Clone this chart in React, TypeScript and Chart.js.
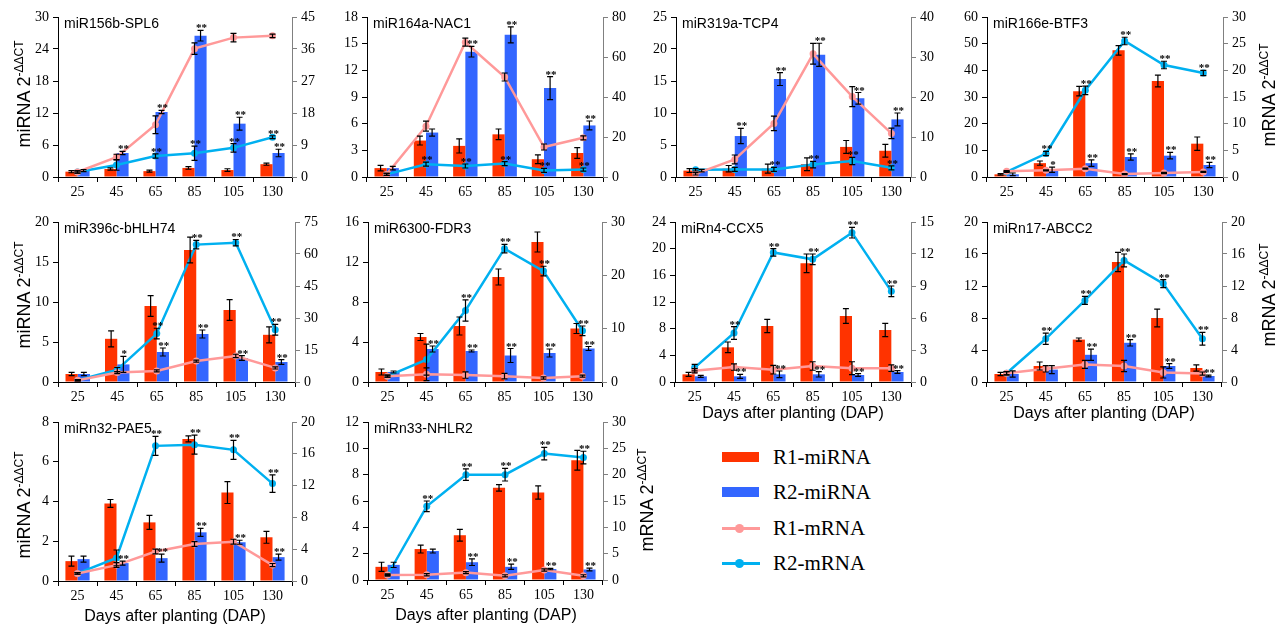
import React, { useEffect, useRef } from "react";
import { Chart, registerables } from "chart.js";

Chart.register(...registerables);

const SERIF = '"Liberation Serif", "Times New Roman", serif';
const SANS = '"Liberation Sans", Arial, sans-serif';
const RED = "#FF3300";
const BLUE = "#3366FF";
const PINK = "#FF9999";
const CYAN = "#00B0F0";

const DAP_LABELS = ["25", "45", "65", "85", "105", "130"];

// ---- miR156b-SPL6 ----
const SPL6_R1_MI = [1.0, 1.5, 1.1, 1.7, 1.3, 2.4];
const SPL6_R1_MI_ERR = [0.2, 0.2, 0.2, 0.25, 0.25, 0.2];
const SPL6_R2_MI = [1.2, 4.5, 12.2, 26.5, 10.0, 4.5];
const SPL6_R2_MI_ERR = [0.2, 0.3, 0.3, 1.0, 1.2, 0.7];
const SPL6_R1_M = [1.4, 5.6, 14.7, 36.1, 39.2, 39.7];
const SPL6_R1_M_ERR = [0.3, 0.8, 2.5, 1.6, 1.2, 0.5];
const SPL6_R2_M = [1.4, 3.4, 5.9, 6.7, 8.2, 11.2];
const SPL6_R2_M_ERR = [0.3, 1.5, 0.6, 2.0, 1.2, 0.4];
const SPL6_SIG_BAR = ["", "**", "**", "**", "**", "**"];
const SPL6_SIG_LINE = ["", "", "**", "**", "**", "**"];

// ---- miR164a-NAC1 ----
const NAC1_R1_MI = [1.0, 4.1, 3.5, 4.8, 2.0, 2.7];
const NAC1_R1_MI_ERR = [0.3, 0.5, 0.8, 0.6, 0.5, 0.6];
const NAC1_R2_MI = [1.0, 5.0, 14.1, 16.0, 10.0, 5.8];
const NAC1_R2_MI_ERR = [0.2, 0.4, 0.6, 0.9, 1.3, 0.5];
const NAC1_R1_M = [1.3, 25.4, 67.4, 50.0, 15.0, 19.6];
const NAC1_R1_M_ERR = [0.5, 2.5, 2.0, 2.0, 1.5, 1.0];
const NAC1_R2_M = [1.3, 6.4, 5.5, 6.7, 3.3, 3.7];
const NAC1_R2_M_ERR = [0.5, 1.0, 1.0, 1.0, 1.0, 0.8];
const NAC1_SIG_BAR = ["", "", "**", "**", "**", "**"];
const NAC1_SIG_LINE = ["", "**", "**", "**", "**", "**"];

// ---- miR319a-TCP4 ----
const TCP4_R1_MI = [1.0, 1.3, 1.3, 2.0, 4.7, 4.1];
const TCP4_R1_MI_ERR = [0.3, 0.5, 0.7, 1.0, 1.0, 1.0];
const TCP4_R2_MI = [1.0, 6.4, 15.3, 19.1, 12.3, 9.0];
const TCP4_R2_MI_ERR = [0.2, 1.2, 1.0, 1.8, 0.9, 1.0];
const TCP4_R1_M = [0.8, 4.4, 13.4, 30.8, 20.1, 10.9];
const TCP4_R1_M_ERR = [0.3, 1.1, 1.8, 2.6, 2.5, 1.3];
const TCP4_R2_M = [1.8, 1.9, 1.9, 3.1, 4.0, 2.3];
const TCP4_R2_M_ERR = [0.3, 0.5, 0.5, 0.8, 0.9, 0.5];
const TCP4_SIG_BAR = ["", "**", "**", "**", "**", "**"];
const TCP4_SIG_LINE = ["", "", "**", "**", "**", "**"];

// ---- miR166e-BTF3 ----
const BTF3_R1_MI = [1.0, 5.2, 32.2, 47.5, 36.0, 12.5];
const BTF3_R1_MI_ERR = [0.3, 0.8, 1.8, 1.8, 2.2, 2.5];
const BTF3_R2_MI = [1.0, 2.7, 5.2, 7.5, 8.0, 4.5];
const BTF3_R2_MI_ERR = [0.5, 1.0, 1.2, 1.2, 1.2, 1.0];
const BTF3_R1_M = [1.1, 1.25, 1.55, 0.55, 0.75, 0.95];
const BTF3_R1_M_ERR = [0.1, 0.1, 0.1, 0.1, 0.1, 0.1];
const BTF3_R2_M = [0.95, 4.4, 16.25, 25.5, 21.0, 19.5];
const BTF3_R2_M_ERR = [0.1, 0.4, 0.8, 0.7, 0.7, 0.5];
const BTF3_SIG_BAR = ["", "*", "**", "**", "**", "**"];
const BTF3_SIG_LINE = ["", "**", "**", "**", "**", "**"];

// ---- miR396c-bHLH74 ----
const BHLH_R1_MI = [1.0, 5.4, 9.5, 16.5, 9.0, 5.9];
const BHLH_R1_MI_ERR = [0.2, 1.0, 1.3, 1.6, 1.3, 1.0];
const BHLH_R2_MI = [1.0, 2.2, 3.75, 6.0, 3.0, 2.5];
const BHLH_R2_MI_ERR = [0.2, 1.0, 0.5, 0.5, 0.3, 0.3];
const BHLH_R1_M = [0.8, 4.4, 5.2, 9.8, 12.2, 6.6];
const BHLH_R1_M_ERR = [0.3, 0.5, 0.5, 0.5, 0.8, 0.5];
const BHLH_R2_M = [0.8, 5.8, 22.7, 64.4, 65.3, 24.5];
const BHLH_R2_M_ERR = [0.3, 1.0, 2.5, 2.0, 1.5, 2.5];
const BHLH_SIG_BAR = ["", "*", "**", "**", "**", "**"];
const BHLH_SIG_LINE = ["", "", "**", "**", "**", "**"];

// ---- miR6300-FDR3 ----
const FDR3_R1_MI = [1.0, 4.5, 5.6, 10.5, 14.0, 5.35];
const FDR3_R1_MI_ERR = [0.3, 0.35, 0.9, 0.8, 1.0, 0.5];
const FDR3_R2_MI = [1.0, 3.3, 3.1, 2.65, 2.9, 3.35];
const FDR3_R2_MI_ERR = [0.1, 0.3, 0.1, 0.7, 0.4, 0.2];
const FDR3_R1_M = [1.1, 1.45, 1.3, 1.1, 0.75, 1.1];
const FDR3_R1_M_ERR = [0.2, 1.2, 0.6, 0.5, 0.2, 0.2];
const FDR3_R2_M = [1.1, 4.2, 13.4, 25.0, 20.8, 9.6];
const FDR3_R2_M_ERR = [0.2, 2.9, 2.0, 0.8, 0.9, 0.9];
const FDR3_SIG_BAR = ["", "**", "**", "**", "**", "**"];
const FDR3_SIG_LINE = ["", "", "**", "**", "**", "**"];

// ---- miRn4-CCX5 ----
const CCX5_R1_MI = [1.15, 5.2, 8.4, 17.8, 9.9, 7.8];
const CCX5_R1_MI_ERR = [0.3, 0.8, 1.0, 1.4, 1.1, 1.0];
const CCX5_R2_MI = [0.85, 0.85, 1.15, 1.15, 1.05, 1.5];
const CCX5_R2_MI_ERR = [0.15, 0.3, 0.5, 0.4, 0.2, 0.2];
const CCX5_R1_M = [1.05, 1.4, 1.15, 1.5, 1.3, 1.3];
const CCX5_R1_M_ERR = [0.2, 0.3, 0.4, 0.4, 0.6, 0.3];
const CCX5_R2_M = [1.35, 4.6, 12.15, 11.5, 14.0, 8.5];
const CCX5_R2_M_ERR = [0.3, 0.6, 0.35, 0.5, 0.5, 0.5];
const CCX5_SIG_BAR = ["", "**", "**", "**", "**", "**"];
const CCX5_SIG_LINE = ["", "**", "**", "**", "**", "**"];

// ---- miRn17-ABCC2 ----
const ABCC2_R1_MI = [1.0, 2.0, 5.3, 15.0, 8.0, 1.75];
const ABCC2_R1_MI_ERR = [0.2, 0.5, 0.2, 1.2, 1.1, 0.4];
const ABCC2_R2_MI = [1.0, 1.55, 3.4, 4.9, 2.0, 0.75];
const ABCC2_R2_MI_ERR = [0.4, 0.5, 0.7, 0.4, 0.3, 0.1];
const ABCC2_R1_M = [1.1, 1.65, 2.2, 2.0, 1.2, 1.05];
const ABCC2_R1_M_ERR = [0.2, 0.4, 0.5, 0.7, 0.7, 0.2];
const ABCC2_R2_M = [1.1, 5.4, 10.2, 15.2, 12.3, 5.4];
const ABCC2_R2_M_ERR = [0.2, 0.7, 0.5, 0.8, 0.5, 0.8];
const ABCC2_SIG_BAR = ["", "", "**", "**", "**", "**"];
const ABCC2_SIG_LINE = ["", "**", "**", "**", "**", "**"];

// ---- miRn32-PAE5 ----
const PAE5_R1_MI = [1.0, 3.9, 2.95, 7.15, 4.45, 2.2];
const PAE5_R1_MI_ERR = [0.25, 0.2, 0.35, 0.15, 0.55, 0.3];
const PAE5_R2_MI = [1.1, 0.9, 1.15, 2.45, 1.95, 1.2];
const PAE5_R2_MI_ERR = [0.15, 0.1, 0.2, 0.2, 0.1, 0.15];
const PAE5_R1_M = [0.95, 2.0, 3.7, 4.65, 4.95, 2.0];
const PAE5_R1_M_ERR = [0.1, 0.3, 0.3, 0.3, 0.3, 0.2];
const PAE5_R2_M = [0.95, 2.9, 17.0, 17.15, 16.5, 12.25];
const PAE5_R2_M_ERR = [0.1, 1.0, 1.2, 1.2, 1.2, 1.1];
const PAE5_SIG_BAR = ["", "**", "**", "**", "**", "**"];
const PAE5_SIG_LINE = ["", "", "**", "**", "**", "**"];

// ---- miRn33-NHLR2 ----
const NHLR2_R1_MI = [1.0, 2.35, 3.4, 7.0, 6.65, 9.1];
const NHLR2_R1_MI_ERR = [0.35, 0.3, 0.45, 0.25, 0.5, 0.75];
const NHLR2_R2_MI = [1.15, 2.2, 1.35, 1.0, 0.83, 0.8];
const NHLR2_R2_MI_ERR = [0.2, 0.15, 0.25, 0.2, 0.05, 0.1];
const NHLR2_R1_M = [0.95, 1.0, 1.4, 0.8, 1.9, 0.8];
const NHLR2_R1_M_ERR = [0.1, 0.2, 0.2, 0.2, 0.2, 0.2];
const NHLR2_R2_M = [0.95, 14.0, 20.0, 20.0, 24.0, 23.25];
const NHLR2_R2_M_ERR = [0.2, 1.0, 1.1, 1.2, 1.2, 1.2];
const NHLR2_SIG_BAR = ["", "", "**", "**", "**", "**"];
const NHLR2_SIG_LINE = ["", "**", "**", "**", "**", "**"];

const PANELS = [
  { title: "miR156b-SPL6", r1mi: SPL6_R1_MI, r1miE: SPL6_R1_MI_ERR, r2mi: SPL6_R2_MI, r2miE: SPL6_R2_MI_ERR, r1m: SPL6_R1_M, r1mE: SPL6_R1_M_ERR, r2m: SPL6_R2_M, r2mE: SPL6_R2_M_ERR, sigBar: SPL6_SIG_BAR, sigLine: SPL6_SIG_LINE, yMax: 30, yStep: 6, y1Max: 45, y1Step: 9, box: { x0: 58, x1: 292, y0: 17, y1: 177 } },
  { title: "miR164a-NAC1", r1mi: NAC1_R1_MI, r1miE: NAC1_R1_MI_ERR, r2mi: NAC1_R2_MI, r2miE: NAC1_R2_MI_ERR, r1m: NAC1_R1_M, r1mE: NAC1_R1_M_ERR, r2m: NAC1_R2_M, r2mE: NAC1_R2_M_ERR, sigBar: NAC1_SIG_BAR, sigLine: NAC1_SIG_LINE, yMax: 18, yStep: 3, y1Max: 80, y1Step: 20, box: { x0: 367, x1: 603, y0: 17, y1: 177 } },
  { title: "miR319a-TCP4", r1mi: TCP4_R1_MI, r1miE: TCP4_R1_MI_ERR, r2mi: TCP4_R2_MI, r2miE: TCP4_R2_MI_ERR, r1m: TCP4_R1_M, r1mE: TCP4_R1_M_ERR, r2m: TCP4_R2_M, r2mE: TCP4_R2_M_ERR, sigBar: TCP4_SIG_BAR, sigLine: TCP4_SIG_LINE, yMax: 25, yStep: 5, y1Max: 40, y1Step: 10, box: { x0: 676, x1: 911, y0: 17, y1: 177 } },
  { title: "miR166e-BTF3", r1mi: BTF3_R1_MI, r1miE: BTF3_R1_MI_ERR, r2mi: BTF3_R2_MI, r2miE: BTF3_R2_MI_ERR, r1m: BTF3_R1_M, r1mE: BTF3_R1_M_ERR, r2m: BTF3_R2_M, r2mE: BTF3_R2_M_ERR, sigBar: BTF3_SIG_BAR, sigLine: BTF3_SIG_LINE, yMax: 60, yStep: 10, y1Max: 30, y1Step: 5, box: { x0: 987, x1: 1223, y0: 17, y1: 177 } },
  { title: "miR396c-bHLH74", r1mi: BHLH_R1_MI, r1miE: BHLH_R1_MI_ERR, r2mi: BHLH_R2_MI, r2miE: BHLH_R2_MI_ERR, r1m: BHLH_R1_M, r1mE: BHLH_R1_M_ERR, r2m: BHLH_R2_M, r2mE: BHLH_R2_M_ERR, sigBar: BHLH_SIG_BAR, sigLine: BHLH_SIG_LINE, yMax: 20, yStep: 5, y1Max: 75, y1Step: 15, box: { x0: 58, x1: 295, y0: 222, y1: 382 } },
  { title: "miR6300-FDR3", r1mi: FDR3_R1_MI, r1miE: FDR3_R1_MI_ERR, r2mi: FDR3_R2_MI, r2miE: FDR3_R2_MI_ERR, r1m: FDR3_R1_M, r1mE: FDR3_R1_M_ERR, r2m: FDR3_R2_M, r2mE: FDR3_R2_M_ERR, sigBar: FDR3_SIG_BAR, sigLine: FDR3_SIG_LINE, yMax: 16, yStep: 4, y1Max: 30, y1Step: 10, box: { x0: 368, x1: 602, y0: 222, y1: 382 } },
  { title: "miRn4-CCX5", r1mi: CCX5_R1_MI, r1miE: CCX5_R1_MI_ERR, r2mi: CCX5_R2_MI, r2miE: CCX5_R2_MI_ERR, r1m: CCX5_R1_M, r1mE: CCX5_R1_M_ERR, r2m: CCX5_R2_M, r2mE: CCX5_R2_M_ERR, sigBar: CCX5_SIG_BAR, sigLine: CCX5_SIG_LINE, yMax: 24, yStep: 4, y1Max: 15, y1Step: 3, box: { x0: 675, x1: 911, y0: 222, y1: 382 } },
  { title: "miRn17-ABCC2", r1mi: ABCC2_R1_MI, r1miE: ABCC2_R1_MI_ERR, r2mi: ABCC2_R2_MI, r2miE: ABCC2_R2_MI_ERR, r1m: ABCC2_R1_M, r1mE: ABCC2_R1_M_ERR, r2m: ABCC2_R2_M, r2mE: ABCC2_R2_M_ERR, sigBar: ABCC2_SIG_BAR, sigLine: ABCC2_SIG_LINE, yMax: 20, yStep: 4, y1Max: 20, y1Step: 4, box: { x0: 987, x1: 1222, y0: 222, y1: 382 } },
  { title: "miRn32-PAE5", r1mi: PAE5_R1_MI, r1miE: PAE5_R1_MI_ERR, r2mi: PAE5_R2_MI, r2miE: PAE5_R2_MI_ERR, r1m: PAE5_R1_M, r1mE: PAE5_R1_M_ERR, r2m: PAE5_R2_M, r2mE: PAE5_R2_M_ERR, sigBar: PAE5_SIG_BAR, sigLine: PAE5_SIG_LINE, yMax: 8, yStep: 2, y1Max: 20, y1Step: 4, box: { x0: 58, x1: 292, y0: 422, y1: 581 } },
  { title: "miRn33-NHLR2", r1mi: NHLR2_R1_MI, r1miE: NHLR2_R1_MI_ERR, r2mi: NHLR2_R2_MI, r2miE: NHLR2_R2_MI_ERR, r1m: NHLR2_R1_M, r1mE: NHLR2_R1_M_ERR, r2m: NHLR2_R2_M, r2mE: NHLR2_R2_M_ERR, sigBar: NHLR2_SIG_BAR, sigLine: NHLR2_SIG_LINE, yMax: 12, yStep: 2, y1Max: 30, y1Step: 5, box: { x0: 368, x1: 603, y0: 422, y1: 580 } },
];

const annotPlugin = {
  id: "annot",
  afterDatasetsDraw(chart: any, _args: any, opts: any) {
    const { ctx, chartArea } = chart;
    ctx.save();
    chart.data.datasets.forEach((ds: any, i: number) => {
      const meta = chart.getDatasetMeta(i);
      const sc = chart.scales[ds.yAxisID];
      meta.data.forEach((el: any, j: number) => {
        const v = ds.data[j];
        const e = ds.errors ? ds.errors[j] : 0;
        const x = el.x;
        const yt = sc.getPixelForValue(v + e);
        const yb = sc.getPixelForValue(Math.max(0, v - e));
        ctx.strokeStyle = "#000";
        ctx.lineWidth = 1.2;
        ctx.beginPath();
        ctx.moveTo(x, yt);
        ctx.lineTo(x, yb);
        ctx.moveTo(x - 3, yt);
        ctx.lineTo(x + 3, yt);
        ctx.moveTo(x - 3, yb);
        ctx.lineTo(x + 3, yb);
        ctx.stroke();
        const s = ds.sig ? ds.sig[j] : "";
        if (s) {
          ctx.font = `bold 11px ${SERIF}`;
          ctx.fillStyle = "#000";
          ctx.textAlign = "center";
          ctx.textBaseline = "alphabetic";
          ctx.fillText(s, x + 1, yt + 1);
        }
      });
    });
    ctx.font = `14px ${SANS}`;
    ctx.fillStyle = "#000";
    ctx.textAlign = "left";
    ctx.textBaseline = "alphabetic";
    ctx.fillText(opts.title, chartArea.left + 6, chartArea.top + 10.5);
    ctx.restore();
  },
};

const L = 45;
const R = 45;
const T = 14;
const B = 30;

function Panel({ p }: { p: any }) {
  const ref = useRef<HTMLCanvasElement>(null);
  const w = p.box.x1 - p.box.x0 + L + R;
  const h = p.box.y1 - p.box.y0 + T + B;
  useEffect(() => {
    const tickFont = { family: SERIF, size: 14 };
    const chart = new Chart(ref.current as HTMLCanvasElement, {
      type: "bar",
      data: {
        labels: DAP_LABELS,
        datasets: [
          { type: "bar", label: "R1-miRNA", data: p.r1mi, backgroundColor: RED, yAxisID: "y", categoryPercentage: 0.62, barPercentage: 1, order: 2, errors: p.r1miE } as any,
          { type: "bar", label: "R2-miRNA", data: p.r2mi, backgroundColor: BLUE, yAxisID: "y", categoryPercentage: 0.62, barPercentage: 1, order: 2, errors: p.r2miE, sig: p.sigBar } as any,
          { type: "line", label: "R1-mRNA", data: p.r1m, borderColor: PINK, backgroundColor: PINK, yAxisID: "y1", borderWidth: 2.5, pointRadius: 3.5, pointBorderWidth: 0, tension: 0, order: 1, errors: p.r1mE } as any,
          { type: "line", label: "R2-mRNA", data: p.r2m, borderColor: CYAN, backgroundColor: CYAN, yAxisID: "y1", borderWidth: 2.5, pointRadius: 3.5, pointBorderWidth: 0, tension: 0, order: 1, errors: p.r2mE, sig: p.sigLine } as any,
        ],
      },
      options: {
        animation: false,
        responsive: false,
        layout: { padding: { top: T, left: 0, right: 0, bottom: 0 } },
        plugins: {
          legend: { display: false },
          tooltip: { enabled: false },
          annot: { title: p.title },
        } as any,
        scales: {
          x: {
            offset: true,
            grid: { offset: true, drawOnChartArea: false, drawTicks: true, tickLength: 5, color: "#000" },
            border: { color: "#000", width: 1 },
            ticks: { font: tickFont, color: "#000", padding: 2, maxRotation: 0, autoSkip: false },
            afterFit: (s: any) => { s.height = B; },
          },
          y: {
            position: "left",
            min: 0,
            max: p.yMax,
            ticks: { stepSize: p.yStep, font: tickFont, color: "#000", padding: 4 },
            grid: { drawOnChartArea: false, tickLength: 5, color: "#000" },
            border: { color: "#000", width: 1 },
            afterFit: (s: any) => { s.width = L; },
          },
          y1: {
            position: "right",
            min: 0,
            max: p.y1Max,
            ticks: { stepSize: p.y1Step, font: tickFont, color: "#000", padding: 4 },
            grid: { drawOnChartArea: false, tickLength: 5, color: "#808080" },
            border: { color: "#808080", width: 1 },
            afterFit: (s: any) => { s.width = R; },
          },
        } as any,
      },
      plugins: [annotPlugin as any],
    });
    return () => chart.destroy();
  }, [p]);
  return (
    <canvas
      ref={ref}
      width={w}
      height={h}
      style={{ position: "absolute", left: p.box.x0 - L, top: p.box.y0 - T, width: w, height: h }}
    />
  );
}

function AxisTitle({ cx, cy, main }: { cx: number; cy: number; main: string }) {
  return (
    <div
      style={{
        position: "absolute",
        left: cx,
        top: cy,
        transform: "translate(-50%, -50%) rotate(-90deg)",
        whiteSpace: "nowrap",
        fontFamily: SANS,
        fontSize: 18,
        lineHeight: "20px",
        color: "#000",
      }}
    >
      {main}
      <span style={{ fontSize: 12, position: "relative", top: -7 }}>-ΔΔCT</span>
    </div>
  );
}

function XTitle({ cx, cy }: { cx: number; cy: number }) {
  return (
    <div
      style={{
        position: "absolute",
        left: cx,
        top: cy,
        transform: "translate(-50%, -50%)",
        whiteSpace: "nowrap",
        fontFamily: SANS,
        fontSize: 16,
        lineHeight: "18px",
        color: "#000",
      }}
    >
      Days after planting (DAP)
    </div>
  );
}

const LEGEND_ITEMS = [
  { label: "R1-miRNA", kind: "bar", color: RED },
  { label: "R2-miRNA", kind: "bar", color: BLUE },
  { label: "R1-mRNA", kind: "line", color: PINK },
  { label: "R2-mRNA", kind: "line", color: CYAN },
];

function Legend() {
  const ys = [457, 492, 528, 563];
  return (
    <>
      {LEGEND_ITEMS.map((it, i) => (
        <div key={it.label}>
          {it.kind === "bar" ? (
            <div style={{ position: "absolute", left: 722, top: ys[i] - 5, width: 37, height: 10, background: it.color }} />
          ) : (
            <>
              <div style={{ position: "absolute", left: 722, top: ys[i] - 1.5, width: 38, height: 3, background: it.color }} />
              <div style={{ position: "absolute", left: 735, top: ys[i] - 4.5, width: 9, height: 9, borderRadius: "50%", background: it.color }} />
            </>
          )}
          <div
            style={{
              position: "absolute",
              left: 773,
              top: ys[i],
              transform: "translateY(-50%)",
              fontFamily: SERIF,
              fontSize: 21,
              lineHeight: "24px",
              whiteSpace: "nowrap",
              color: "#000",
            }}
          >
            {it.label}
          </div>
        </div>
      ))}
    </>
  );
}

export default function App() {
  return (
    <div style={{ position: "absolute", left: 0, top: 0, width: 1288, height: 627, background: "#fff", overflow: "hidden" }}>
      {PANELS.map((p) => (
        <Panel key={p.title} p={p} />
      ))}
      <AxisTitle cx={25} cy={94} main="miRNA 2" />
      <AxisTitle cx={25} cy={295} main="miRNA 2" />
      <AxisTitle cx={25} cy={505} main="miRNA 2" />
      <AxisTitle cx={1270} cy={95} main="mRNA 2" />
      <AxisTitle cx={1270} cy={295} main="mRNA 2" />
      <AxisTitle cx={648} cy={500} main="mRNA 2" />
      <XTitle cx={793} cy={413} />
      <XTitle cx={1104} cy={413} />
      <XTitle cx={175} cy={616} />
      <XTitle cx={486} cy={615} />
      <Legend />
    </div>
  );
}
